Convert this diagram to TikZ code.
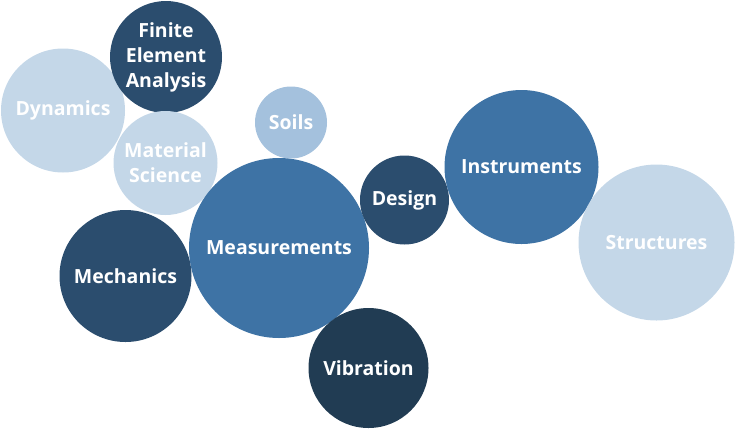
\documentclass[tikz,border=0pt]{standalone}
\usepackage{fontspec}
\setmainfont{Open Sans}
\begin{document}
\begin{tikzpicture}[x=1pt,y=-1pt,
  bubble/.style={circle,inner sep=0pt,draw=none,text=white,font=\fontsize{19.5}{25}\selectfont\bfseries,align=center},
  light/.style={fill=clight},
  soil/.style={fill=csoil},
  mid/.style={fill=cmid},
  dark/.style={fill=cdark},
  navy/.style={fill=cnavy}]
\definecolor{clight}{HTML}{C4D7E8}
\definecolor{csoil}{HTML}{A4C1DD}
\definecolor{cmid}{HTML}{3E73A5}
\definecolor{cdark}{HTML}{2B4D6E}
\definecolor{cnavy}{HTML}{213C53}
\useasboundingbox (0,0) rectangle (735,429);
\node[bubble,light,minimum size=124pt] (dyn) at (63,110.5) {Dynamics};
\node[bubble,dark,minimum size=112pt] (fea) at (166,57) {Finite\\Element\\Analysis};
\node[bubble,light,minimum size=104pt] (mat) at (165.5,163) {Material\\Science};
\node[bubble,soil,minimum size=72pt] (soil) at (291,122.5) {Soils};
\node[bubble,dark,minimum size=132pt] (mech) at (125.5,276) {Mechanics};
\node[bubble,mid,minimum size=180pt] (meas) at (279,248) {Measurements};
\node[bubble,dark,minimum size=89pt] (des) at (404.5,200) {Design};
\node[bubble,navy,minimum size=120pt] (vib) at (368.5,368) {Vibration};
\node[bubble,mid,minimum size=154pt] (ins) at (521.5,167) {Instruments};
\node[bubble,light,minimum size=156pt] (str) at (656.5,242.5) {Structures};
\end{tikzpicture}
\end{document}
